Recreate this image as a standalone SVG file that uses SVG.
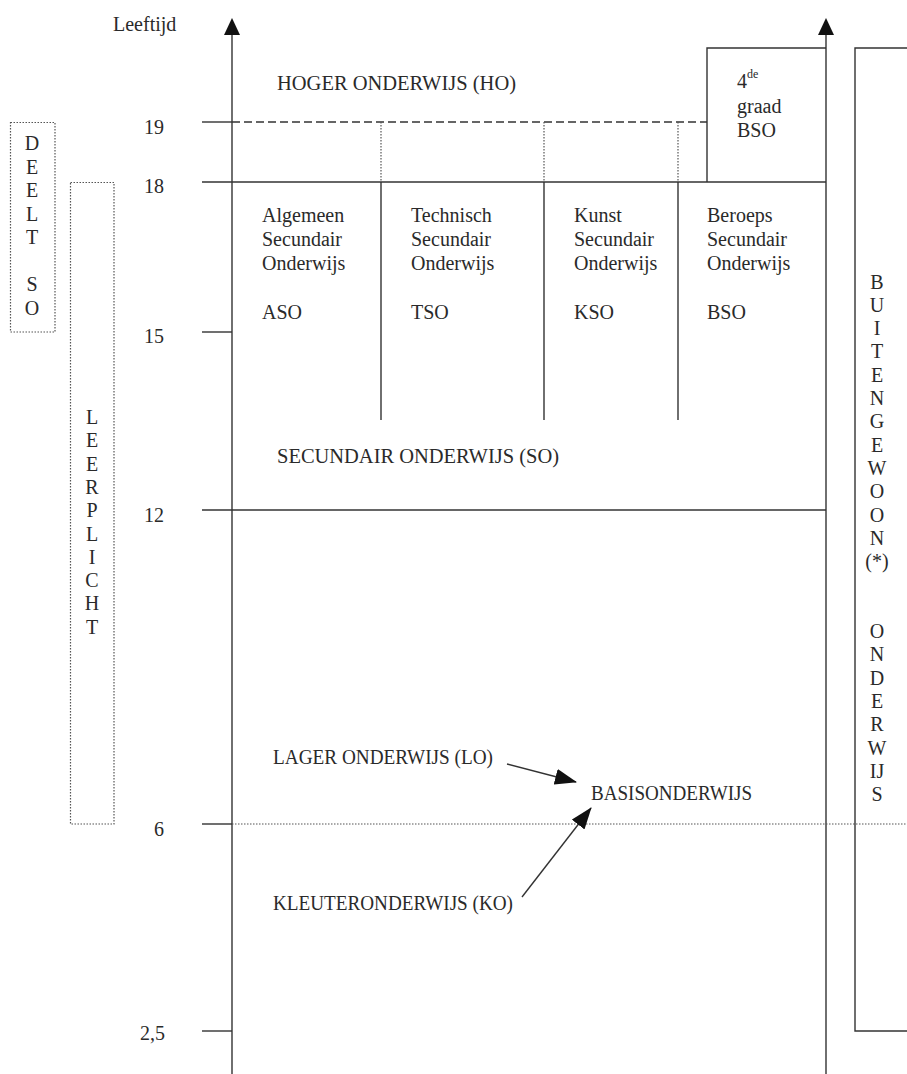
<svg xmlns="http://www.w3.org/2000/svg" width="907" height="1074" viewBox="0 0 907 1074">
<style>
text{font-family:"Liberation Serif","Times New Roman",serif;font-size:20px;fill:#2a2a2a}
.num{text-anchor:end}
.v tspan{text-anchor:middle}
.ln{stroke:#333;stroke-width:1.4;fill:none}
.dash{stroke:#333;stroke-width:1.4;stroke-dasharray:8 4;fill:none}
.dot{stroke:#555;stroke-width:1.2;stroke-dasharray:1.5 1.5;fill:none}
.head{fill:#111}
</style>
<defs>
<marker id="ah" viewBox="0 0 22 16" refX="21" refY="8" markerWidth="22" markerHeight="16" markerUnits="userSpaceOnUse" orient="auto">
<path d="M0,0 L22,8 L0,16 Z" fill="#111"/>
</marker>
</defs>
<rect width="907" height="1074" fill="#fff"/>

<g id="axes">
<line class="ln" x1="232" y1="30" x2="232" y2="1074"/>
<polygon class="head" points="232,18 224,35 240,35"/>
<line class="ln" x1="826" y1="30" x2="826" y2="1074"/>
<polygon class="head" points="826,18 818,35 834,35"/>
<text x="113" y="31">Leeftijd</text>
<text class="num" x="164" y="134">19</text>
<text class="num" x="164" y="193">18</text>
<text class="num" x="164" y="343">15</text>
<text class="num" x="164" y="522">12</text>
<text class="num" x="164" y="836">6</text>
<text class="num" x="165" y="1040">2,5</text>
</g>

<g id="grid">
<line class="ln" x1="202" y1="122" x2="232" y2="122"/>
<line class="dash" x1="232" y1="122" x2="707" y2="122"/>
<line class="ln" x1="202" y1="182" x2="826" y2="182"/>
<line class="ln" x1="202" y1="332" x2="232" y2="332"/>
<line class="ln" x1="202" y1="510" x2="826" y2="510"/>
<line class="ln" x1="202" y1="824" x2="232" y2="824"/>
<line class="dot" x1="232" y1="824" x2="907" y2="824"/>
<line class="ln" x1="202" y1="1031" x2="232" y2="1031"/>
<line class="dot" x1="381" y1="122" x2="381" y2="182"/>
<line class="dot" x1="544" y1="122" x2="544" y2="182"/>
<line class="dot" x1="678" y1="122" x2="678" y2="182"/>
<line class="ln" x1="381" y1="182" x2="381" y2="420"/>
<line class="ln" x1="544" y1="182" x2="544" y2="420"/>
<line class="ln" x1="678" y1="182" x2="678" y2="420"/>
</g>

<g id="ho">
<text x="277" y="90" textLength="239" lengthAdjust="spacingAndGlyphs">HOGER ONDERWIJS (HO)</text>
</g>

<g id="graad4">
<polyline class="ln" points="707,182 707,48 826,48"/>
<text x="737" y="88">4<tspan font-size="12" dy="-10">de</tspan></text>
<text x="737" y="113">graad</text>
<text x="737" y="137">BSO</text>
</g>

<g id="aso">
<text x="262" y="222">Algemeen</text>
<text x="262" y="246">Secundair</text>
<text x="262" y="270">Onderwijs</text>
<text x="262" y="319">ASO</text>
</g>
<g id="tso">
<text x="411" y="222">Technisch</text>
<text x="411" y="246">Secundair</text>
<text x="411" y="270">Onderwijs</text>
<text x="411" y="319">TSO</text>
</g>
<g id="kso">
<text x="574" y="222">Kunst</text>
<text x="574" y="246">Secundair</text>
<text x="574" y="270">Onderwijs</text>
<text x="574" y="319">KSO</text>
</g>
<g id="bso">
<text x="707" y="222">Beroeps</text>
<text x="707" y="246">Secundair</text>
<text x="707" y="270">Onderwijs</text>
<text x="707" y="319">BSO</text>
</g>

<g id="so">
<text x="277" y="463" textLength="282" lengthAdjust="spacingAndGlyphs">SECUNDAIR ONDERWIJS (SO)</text>
</g>

<g id="lo">
<text x="273" y="764" textLength="220" lengthAdjust="spacingAndGlyphs">LAGER ONDERWIJS (LO)</text>
</g>
<g id="basis">
<text x="591" y="800" textLength="161" lengthAdjust="spacingAndGlyphs">BASISONDERWIJS</text>
</g>
<g id="ko">
<text x="273" y="910" textLength="240" lengthAdjust="spacingAndGlyphs">KLEUTERONDERWIJS (KO)</text>
</g>

<g id="connectors">
<line class="ln" x1="507" y1="764" x2="576" y2="782" marker-end="url(#ah)"/>
<line class="ln" x1="522" y1="897" x2="591" y2="808" marker-end="url(#ah)"/>
</g>

<g id="deelt-so">
<rect class="dot" x="10.5" y="122.5" width="44.5" height="209.5"/>
<text class="v"><tspan x="32" y="150">D</tspan><tspan x="32" y="173.5">E</tspan><tspan x="32" y="197">E</tspan><tspan x="32" y="220.5">L</tspan><tspan x="32" y="244">T</tspan><tspan x="32" y="291">S</tspan><tspan x="32" y="315">O</tspan></text>
</g>

<g id="leerplicht">
<rect class="dot" x="70.5" y="182.5" width="43.5" height="641.5"/>
<text class="v"><tspan x="92" y="424">L</tspan><tspan x="92" y="447.3">E</tspan><tspan x="92" y="470.6">E</tspan><tspan x="92" y="493.9">R</tspan><tspan x="92" y="517.2">P</tspan><tspan x="92" y="540.5">L</tspan><tspan x="92" y="563.8">I</tspan><tspan x="92" y="587.1">C</tspan><tspan x="92" y="610.4">H</tspan><tspan x="92" y="633.7">T</tspan></text>
</g>

<g id="buitengewoon">
<polyline class="ln" points="907,48 855,48 855,1031 907,1031"/>
<text class="v"><tspan x="877" y="288.5">B</tspan><tspan x="877" y="311.8">U</tspan><tspan x="877" y="335.1">I</tspan><tspan x="877" y="358.4">T</tspan><tspan x="877" y="381.7">E</tspan><tspan x="877" y="405">N</tspan><tspan x="877" y="428.3">G</tspan><tspan x="877" y="451.6">E</tspan><tspan x="877" y="474.9">W</tspan><tspan x="877" y="498.2">O</tspan><tspan x="877" y="521.5">O</tspan><tspan x="877" y="544.8">N</tspan><tspan x="877" y="568.1">(*)</tspan><tspan x="877" y="638">O</tspan><tspan x="877" y="661.3">N</tspan><tspan x="877" y="684.6">D</tspan><tspan x="877" y="707.9">E</tspan><tspan x="877" y="731.2">R</tspan><tspan x="877" y="754.5">W</tspan><tspan x="877" y="777.8">IJ</tspan><tspan x="877" y="801.1">S</tspan></text>
</g>
</svg>
